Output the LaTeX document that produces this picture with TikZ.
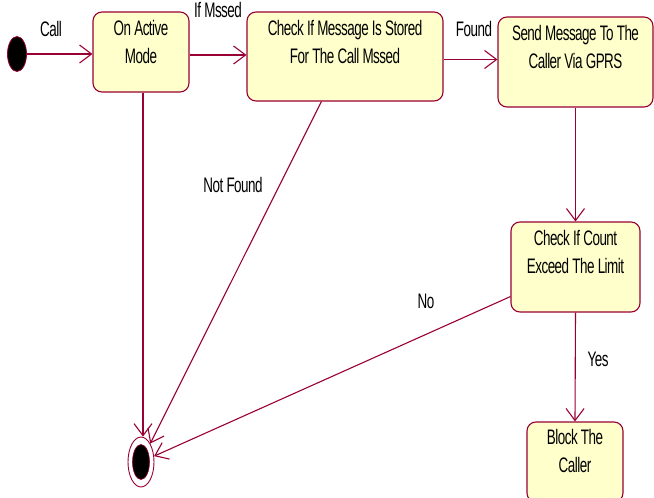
\documentclass[tikz,border=0pt]{standalone}
\usepackage{fontspec}
\setmainfont{Liberation Sans}[FakeStretch=0.64,LetterSpace=-2.4]
\usetikzlibrary{arrows.meta,shapes.geometric,calc}
\definecolor{ln}{RGB}{153,0,51}
\definecolor{bx}{RGB}{255,255,204}
\tikzset{
  statebox/.style={draw=ln, fill=bx, line width=1.1pt, rounded corners=9pt, inner sep=0pt},
  txt/.style={align=center, inner sep=0pt, font=\fontsize{21}{28}\selectfont},
  lbl/.style={inner sep=0pt, anchor=base, font=\fontsize{21}{28}\selectfont},
  flow/.style={draw=ln, line width=1.1pt, -{Straight Barb[length=12pt,width=18pt,line width=1.1pt]}},
}
\begin{document}
\begin{tikzpicture}[x=1pt,y=1pt]
\useasboundingbox (0,0) rectangle (654,-498);
% start
\node[ellipse, draw=ln, fill=black, line width=0.8pt, minimum width=19, minimum height=35, inner sep=0pt] (start) at (17,-54) {};
% states
\node[statebox, minimum width=96, minimum height=80] (a) at (141,-52) {};
\node[txt, anchor=north] at ([yshift=-9]a.north) {On Active\\Mode};
\node[statebox, minimum width=196, minimum height=89] (b) at (345,-56.5) {};
\node[txt, anchor=north] at ([yshift=-9]b.north) {Check If Message Is Stored\\For The Call Mssed};
\node[statebox, minimum width=155, minimum height=90] (c) at (575.5,-62) {};
\node[txt, anchor=north] at ([yshift=-9]c.north) {Send Message To The\\Caller Via GPRS};
\node[statebox, minimum width=129, minimum height=90] (d) at (575.5,-267) {};
\node[txt, anchor=north] at ([yshift=-9]d.north) {Check If Count\\Exceed The Limit};
\node[statebox, minimum width=96, minimum height=80] (e) at (575,-462) {};
\node[txt, anchor=north] at ([yshift=-8]e.north) {Block The\\Caller};
% end state
\node[ellipse, draw=ln, fill=white, line width=0.9pt, minimum width=26, minimum height=50, inner sep=0pt] (fin) at (141,-462) {};
\node[ellipse, draw=ln, fill=black, line width=0.6pt, minimum width=17, minimum height=35, inner sep=0pt] (finin) at (fin) {};
% transitions
\draw[flow] (start.east) -- (a.west |- start.east);
\draw[flow] ([yshift=-3]a.east) -- ($(b.west |- a.east)+(0,-3)$);
\draw[flow] ([yshift=-3]b.east) -- ($(c.west |- b.east)+(0,-3)$);
\draw[flow] (c.south) -- (d.north);
\draw[flow] (d.south) -- (e.north);
\draw[flow] ([xshift=2]a.south) -- ([xshift=2]fin.north);
\draw[flow] ($(b.south west)+(75,0)$) -- (fin);
\draw[flow] ($(d.south west)+(0,16)$) -- (fin);
% labels
\node[lbl] (lcall) at (51,-36) {Call};
\node[lbl] (lmiss) at (218,-17.5) {If Mssed};
\node[lbl] (lfound) at (474,-36) {Found};
\node[lbl] (lnf) at (233,-192) {Not Found};
\node[lbl] (lno) at (426,-308) {No};
\node[lbl] (lyes) at (598,-366) {Yes};
\end{tikzpicture}
\end{document}
